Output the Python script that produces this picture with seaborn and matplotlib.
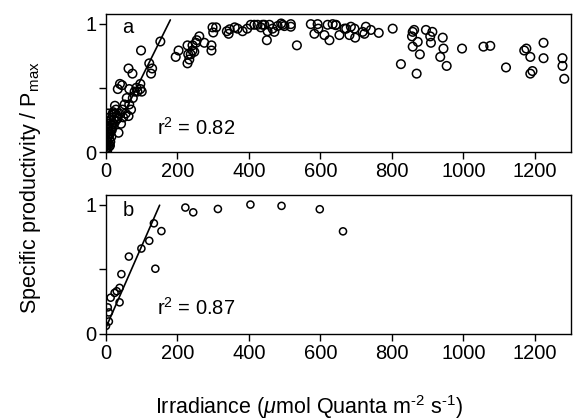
import numpy as np
import pandas as pd
import matplotlib
matplotlib.use("Agg")
import matplotlib.pyplot as plt
import seaborn as sns

# panel a: irradiance vs specific productivity
irr_a = [0, 2, 4, 0, 5, 3, 6, 8, 9, 10, 5, 8, 12, 14, 10, 18, 22, 28, 32, 37,
         42, 35, 46, 52, 58, 63, 65, 70, 33, 39, 45, 65, 88, 96, 96, 100, 63, 74,
         98, 121, 129, 126, 152, 16, 20, 25, 55, 48, 8, 3, 12, 6, 15, 75, 80, 85,
         2, 4, 1, 7, 11, 3, 14, 19, 24, 30,
         195, 203, 228, 233, 230, 228, 242, 252, 254, 261, 247, 237, 242, 275, 295,
         295, 298, 308, 300, 338, 343, 346, 360, 368, 382, 395, 405, 415, 424, 433,
         438, 443, 452, 450, 457, 466, 471, 480, 490, 494, 499, 517, 517, 534, 573,
         592, 583, 594, 611, 620, 625, 634, 643, 653, 672,
         643, 667, 681, 685, 695, 697, 718, 723, 727, 741, 763, 802, 825, 856, 858,
         862, 858, 872, 869, 878, 895, 907, 913, 909, 942, 944, 935, 953, 996, 1056,
         1075, 1119, 1170, 1176, 1187, 1187, 1193, 1224, 1224, 1277, 1277, 1282]
prod_a = [0.02, 0.05, 0.08, 0.10, 0.12, 0.15, 0.18, 0.04, 0.10, 0.14, 0.20, 0.22,
          0.19, 0.25, 0.27, 0.29, 0.25, 0.33, 0.26, 0.30, 0.22, 0.15, 0.33, 0.37,
          0.42, 0.28, 0.37, 0.33, 0.49, 0.53, 0.52, 0.49, 0.47, 0.49, 0.53, 0.47,
          0.65, 0.61, 0.79, 0.69, 0.65, 0.61, 0.86, 0.17, 0.31, 0.36, 0.30, 0.27,
          0.06, 0.00, 0.08, 0.30, 0.12, 0.42, 0.47, 0.50,
          0.03, 0.11, 0.06, 0.16, 0.05, 0.24, 0.21, 0.22, 0.30, 0.28,
          0.74, 0.79, 0.69, 0.72, 0.76, 0.83, 0.83, 0.85, 0.87, 0.90, 0.78, 0.76,
          0.79, 0.85, 0.83, 0.79, 0.97, 0.97, 0.93, 0.94, 0.92, 0.955, 0.97, 0.96,
          0.94, 0.96, 0.99, 0.99, 0.99, 0.97, 0.99, 0.99, 0.94, 0.87, 0.99, 0.96,
          0.935, 0.98, 1.0, 0.99, 0.98, 0.995, 0.975, 0.83, 0.995, 0.995, 0.92, 0.96,
          0.91, 0.99, 0.87, 0.995, 0.99, 0.91, 0.96,
          0.987, 0.96, 0.91, 0.975, 0.96, 0.89, 0.935, 0.92, 0.975, 0.95, 0.927,
          0.96, 0.684, 0.90, 0.935, 0.95, 0.82, 0.857, 0.61, 0.76, 0.95, 0.90,
          0.935, 0.85, 0.89, 0.805, 0.74, 0.67, 0.805, 0.82, 0.826, 0.658, 0.79,
          0.805, 0.74, 0.61, 0.63, 0.85, 0.73, 0.73, 0.67, 0.57]

# panel b
irr_b = [0, 8, 8, 5, 13, 24, 30, 38, 38, 43, 64, 99, 121, 134, 138, 155,
         222, 244, 313, 404, 491, 598, 663]
prod_b = [0.062, 0.096, 0.166, 0.205, 0.28, 0.317, 0.33, 0.356, 0.244, 0.462,
          0.598, 0.66, 0.72, 0.855, 0.504, 0.795, 0.977, 0.94, 0.966, 1.0, 0.99,
          0.964, 0.793]

# initial-slope fits (intercept, slope, x range)
fit_a = dict(b0=0.02, b1=0.0056, xmax=180, r2="0.82")
fit_b = dict(b0=0.05, b1=0.0063, xmax=150, r2="0.87")

sns.set_style("ticks")
plt.rcParams["font.family"] = ["Liberation Sans", "DejaVu Sans"]
plt.rcParams["mathtext.fontset"] = "custom"
plt.rcParams["mathtext.rm"] = "Liberation Sans"
plt.rcParams["mathtext.it"] = "Liberation Sans:italic"
plt.rcParams["axes.linewidth"] = 1.0
plt.rcParams["text.color"] = "black"

fig = plt.figure(figsize=(5.73, 4.2), dpi=100)
ax_a = fig.add_axes([0.185, 0.638, 0.811, 0.329])
ax_b = fig.add_axes([0.185, 0.205, 0.811, 0.331])

panels = [(ax_a, irr_a, prod_a, fit_a, "a", 38, 0.90, 0.174),
          (ax_b, irr_b, prod_b, fit_b, "b", 26, 0.885, 0.187)]

for ax, x, y, fit, lab, ms, ly, ry in panels:
    df = pd.DataFrame({"irr": x, "prod": y})
    sns.scatterplot(data=df, x="irr", y="prod", ax=ax, s=ms, marker="o",
                    facecolors="none", edgecolors="black", linewidth=1.1)
    xl = np.array([0, fit["xmax"]])
    line = pd.DataFrame({"irr": xl, "prod": fit["b0"] + fit["b1"] * xl})
    sns.lineplot(data=line, x="irr", y="prod", ax=ax, color="black", lw=1.2)
    ax.set_xlim(0, 1300)
    ax.set_ylim(0, 1.075)
    ax.set_xticks([0, 200, 400, 600, 800, 1000, 1200])
    ax.set_yticks([0, 0.5, 1])
    ax.set_yticklabels(["0", "", "1"])
    ax.tick_params(direction="out", length=5, width=1, labelsize=14.5,
                   colors="black", pad=2)
    for sp in ax.spines.values():
        sp.set_visible(True)
        sp.set_color("black")
    ax.set_xlabel("")
    ax.set_ylabel("")
    ax.text(0.035, ly, lab, transform=ax.transAxes, fontsize=14.5, va="center")
    ax.text(0.11, ry, "r$^{\\rm 2}$ = " + fit["r2"], transform=ax.transAxes,
            fontsize=14.5, va="center")

fig.text(0.054, 0.553, "Specific productivity / P$_{\\rm max}$", rotation=90,
         ha="center", va="center", fontsize=15.5)
fig.text(0.54, 0.03,
         "Irradiance ($\\mu$mol Quanta m$^{\\rm \\text{-}2}$ s$^{\\rm \\text{-}1}$)",
         ha="center", va="center", fontsize=15.5)

fig.savefig("out.png", dpi=100)
